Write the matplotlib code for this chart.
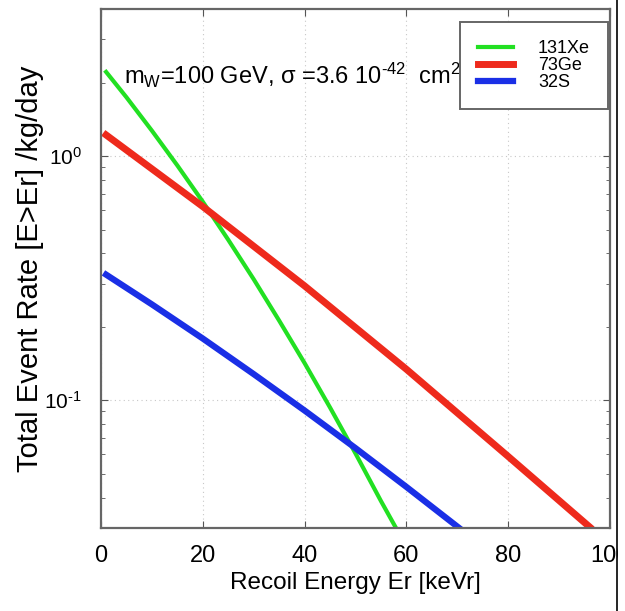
import matplotlib

matplotlib.use("Agg")
import matplotlib.pyplot as plt
from matplotlib.lines import Line2D
from matplotlib.patches import Rectangle

plt.rcParams["font.family"] = ["Liberation Sans", "DejaVu Sans"]
plt.rcParams["mathtext.fontset"] = "custom"
plt.rcParams["mathtext.rm"] = "Liberation Sans"
plt.rcParams["mathtext.it"] = "Liberation Sans:italic"

# recoil energy (keVr) and integrated rate (/kg/day)
xe_energy = [1, 5, 10, 15, 20, 25, 30, 35, 40, 45, 50, 55, 58]
xe_rate = [2.21, 1.74, 1.27, 0.915, 0.650, 0.454, 0.313, 0.212, 0.142,
           0.0934, 0.0606, 0.0387, 0.0299]

ge_energy = [1, 20, 40, 60, 80, 96]
ge_rate = [1.22, 0.621, 0.294, 0.134, 0.0589, 0.0303]

s_energy = [1, 10, 20, 30, 40, 50, 60, 71]
s_rate = [0.327, 0.247, 0.179, 0.128, 0.0908, 0.0637, 0.0442, 0.0293]

labels = ["131Xe", "73Ge", "32S"]
colors = ["#22e022", "#ee2a1c", "#1a2fe6"]

x_ticks = [0, 20, 40, 60, 80, 100]
y_ticks = [0.1, 1]
y_ticklabels = ["10$^{\\text{-}1}$", "10$^{0}$"]

fig = plt.figure(figsize=(6.25, 6.11), dpi=100)
ax = fig.add_axes([0.1616, 0.1358, 0.8144, 0.8495])

ax.plot(xe_energy, xe_rate, color=colors[0], lw=3.0, label=labels[0])
ax.plot(ge_energy, ge_rate, color=colors[1], lw=5.0, label=labels[1])
ax.plot(s_energy, s_rate, color=colors[2], lw=4.5, label=labels[2])

ax.set_yscale("log")
ax.set_xlim(0, 100)
ax.set_ylim(0.03, 4)
ax.set_xticks(x_ticks)
ax.set_yticks(y_ticks)
ax.set_yticklabels(y_ticklabels)

ax.grid(True, which="major", linestyle=(0, (1, 3)), color="#c8c8c8", lw=0.8)
ax.tick_params(which="both", direction="in", top=True, right=True, color="#555555")
ax.tick_params(which="major", length=5, labelsize=17, pad=12)
ax.tick_params(axis="y", which="major", labelsize=15, pad=14)
ax.tick_params(which="minor", length=3)
for sp in ax.spines.values():
    sp.set_color("#666666")
    sp.set_linewidth(1.6)

ax.set_xlabel("Recoil Energy Er [keVr]", fontsize=17.5, labelpad=4)
ax.set_ylabel("Total Event Rate [E>Er] /kg/day", fontsize=21)
ax.yaxis.set_label_coords(-0.112, 0.5)

ax.text(0.045, 0.855, "m$_{\\mathrm{W}}$=100 GeV, σ =3.6 10$^{\\text{-}42}$  cm$^2$",
        transform=ax.transAxes, fontsize=17, zorder=3)

leg = ax.legend(loc="upper right", bbox_to_anchor=(0.996, 0.975), fontsize=13,
                handlelength=1.9, handletextpad=1.4, borderpad=1.0,
                borderaxespad=0, labelspacing=0.0, fancybox=False,
                framealpha=1, edgecolor="#666666")
leg.get_frame().set_linewidth(1.4)
leg.set_zorder(10)

# cropped right edge of the original scan
fig.add_artist(Rectangle((618 / 625, 0), 7 / 625, 1, transform=fig.transFigure,
                         color="white", zorder=20))
fig.add_artist(Line2D([617 / 625, 617 / 625], [0, 1], transform=fig.transFigure,
                      color="black", lw=1.2, zorder=21))

fig.savefig("out.png", dpi=100)
